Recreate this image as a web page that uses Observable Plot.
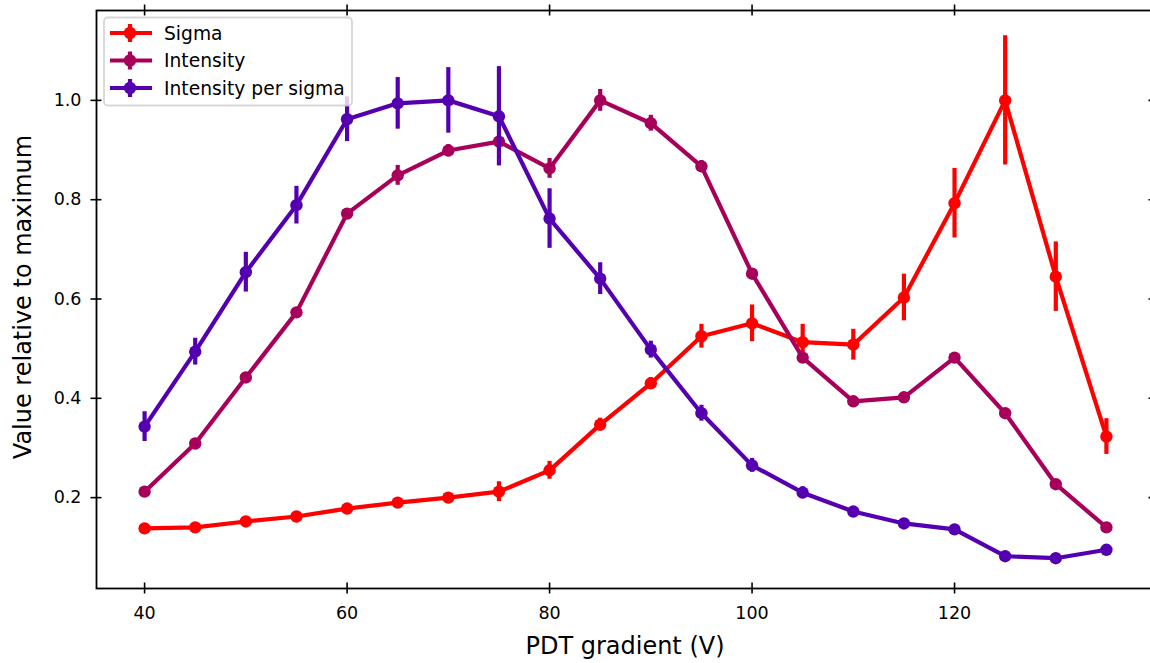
<!DOCTYPE html>
<html>
<head>
<meta charset="utf-8">
<script src="https://cdn.jsdelivr.net/npm/d3@7"></script>
<script src="https://cdn.jsdelivr.net/npm/@observablehq/plot@0.6"></script>
<style>
  html, body { margin: 0; padding: 0; background: #fff; }
  svg { display: block; }
</style>
</head>
<body>
<div id="chart"></div>
<script>
// ---- Data ----
const xValues = [40, 45, 50, 55, 60, 65, 70, 75, 80, 85, 90, 95, 100, 105, 110, 115, 120, 125, 130, 135];

const sigmaValues = [0.138, 0.140, 0.152, 0.162, 0.178, 0.190, 0.200, 0.212, 0.255, 0.347, 0.430, 0.525, 0.551, 0.513, 0.508, 0.603, 0.793, 1.000, 0.645, 0.323];
const sigmaErrors = [0.004, 0.004, 0.004, 0.004, 0.005, 0.005, 0.006, 0.020, 0.018, 0.013, 0.012, 0.024, 0.037, 0.036, 0.031, 0.047, 0.070, 0.130, 0.070, 0.036];

const intensityValues = [0.212, 0.309, 0.442, 0.573, 0.772, 0.849, 0.899, 0.917, 0.863, 1.000, 0.954, 0.867, 0.651, 0.482, 0.394, 0.402, 0.482, 0.370, 0.227, 0.140];
const intensityErrors = [0.004, 0.005, 0.005, 0.006, 0.008, 0.020, 0.012, 0.010, 0.020, 0.022, 0.016, 0.012, 0.008, 0.007, 0.006, 0.007, 0.008, 0.006, 0.004, 0.003];

const perSigmaValues = [0.343, 0.494, 0.654, 0.789, 0.962, 0.994, 1.000, 0.968, 0.762, 0.641, 0.498, 0.370, 0.265, 0.210, 0.172, 0.148, 0.136, 0.082, 0.078, 0.095];
const perSigmaErrors = [0.030, 0.027, 0.040, 0.038, 0.045, 0.052, 0.066, 0.100, 0.060, 0.032, 0.017, 0.016, 0.014, 0.012, 0.008, 0.006, 0.005, 0.004, 0.004, 0.004];

const seriesNames = ["Sigma", "Intensity", "Intensity per sigma"];
const seriesColors = ["#ff0000", "#a8005a", "#5500b0"];

const xTicks = [40, 60, 80, 100, 120];
const yTicks = [0.2, 0.4, 0.6, 0.8, 1.0];
const yTickLabels = ["0.2", "0.4", "0.6", "0.8", "1.0"];

const xLabel = "PDT gradient (V)";
const yLabel = "Value relative to maximum";

const xDomain = [35.25, 139.75];
const yDomain = [0.017, 1.181];

// ---- Build tables ----
function table(values, errors) {
  return xValues.map((x, i) => ({ x, y: values[i], lo: values[i] - errors[i], hi: values[i] + errors[i] }));
}
const tables = [
  table(sigmaValues, sigmaErrors),
  table(intensityValues, intensityErrors),
  table(perSigmaValues, perSigmaErrors)
];

const font = "DejaVu Sans, sans-serif";
const tick = 5.5;

const seriesMarks = tables.flatMap((t, k) => [
  Plot.ruleX(t, { x: "x", y1: "lo", y2: "hi", stroke: seriesColors[k], strokeWidth: 4.2 }),
  Plot.line(t, { x: "x", y: "y", stroke: seriesColors[k], strokeWidth: 4.2, strokeLinejoin: "round" }),
  Plot.dot(t, { x: "x", y: "y", r: 6.2, fill: seriesColors[k], stroke: "none" })
]);

const plot = Plot.plot({
  width: 1150,
  height: 663,
  marginLeft: 96,
  marginRight: -4,
  marginTop: 10,
  marginBottom: 75,
  style: { fontFamily: font, background: "#fff", overflow: "hidden" },
  x: { domain: xDomain },
  y: { domain: yDomain },
  marks: [
    ...seriesMarks,
    Plot.frame({ stroke: "#000", strokeWidth: 1.8 }),
    // inout ticks on all four sides
    Plot.ruleX(xTicks, { x: d => d, y1: () => yDomain[0], y2: () => yDomain[0], insetTop: -tick, insetBottom: -tick, stroke: "#000", strokeWidth: 1.6 }),
    Plot.ruleX(xTicks, { x: d => d, y1: () => yDomain[1], y2: () => yDomain[1], insetTop: -tick, insetBottom: -tick, stroke: "#000", strokeWidth: 1.6 }),
    Plot.ruleY(yTicks, { y: d => d, x1: () => xDomain[0], x2: () => xDomain[0], insetLeft: -tick, insetRight: -tick, stroke: "#000", strokeWidth: 1.6 }),
    Plot.ruleY(yTicks, { y: d => d, x1: () => xDomain[1], x2: () => xDomain[1], insetLeft: -tick, insetRight: -tick, stroke: "#000", strokeWidth: 1.6 }),
    Plot.axisX({ ticks: xTicks, tickSize: 0, tickPadding: 18, fontSize: 17.5, fill: "#000", label: null }),
    Plot.axisY({ ticks: yTicks, tickFormat: (d, i) => yTickLabels[i], tickSize: 0, tickPadding: 15, fontSize: 17.5, fill: "#000", label: null })
  ]
});

document.getElementById("chart").appendChild(plot);

const svg = d3.select(plot);

// X axis label
svg.append("text")
  .attr("x", 625).attr("y", 654)
  .style("text-anchor", "middle")
  .style("font-family", font)
  .style("font-size", "24px")
  .attr("fill", "#000")
  .text(xLabel);

// Y axis label
svg.append("text")
  .attr("transform", "translate(31,297) rotate(-90)")
  .style("text-anchor", "middle")
  .style("font-family", font)
  .style("font-size", "24px")
  .attr("fill", "#000")
  .text(yLabel);

// Legend
const lg = svg.append("g");
lg.append("rect")
  .attr("x", 104).attr("y", 17.5).attr("width", 248).attr("height", 88)
  .attr("rx", 4).attr("ry", 4)
  .attr("fill", "rgba(255,255,255,0.8)")
  .attr("stroke", "rgba(204,204,204,0.8)")
  .attr("stroke-width", 1.8);
seriesNames.forEach((name, k) => {
  const cy = 33 + k * 27.5;
  const c = seriesColors[k];
  lg.append("line").attr("x1", 110).attr("x2", 152).attr("y1", cy).attr("y2", cy).attr("stroke", c).attr("stroke-width", 4.2);
  lg.append("line").attr("x1", 130).attr("x2", 130).attr("y1", cy - 9).attr("y2", cy + 9).attr("stroke", c).attr("stroke-width", 4.2);
  lg.append("circle").attr("cx", 130).attr("cy", cy).attr("r", 6.2).attr("fill", c);
  lg.append("text").attr("x", 164).attr("y", cy).attr("dy", "0.36em")
    .style("text-anchor", "start")
    .style("font-family", font).style("font-size", "18.7px").attr("fill", "#000").text(name);
});
</script>
</body>
</html>
